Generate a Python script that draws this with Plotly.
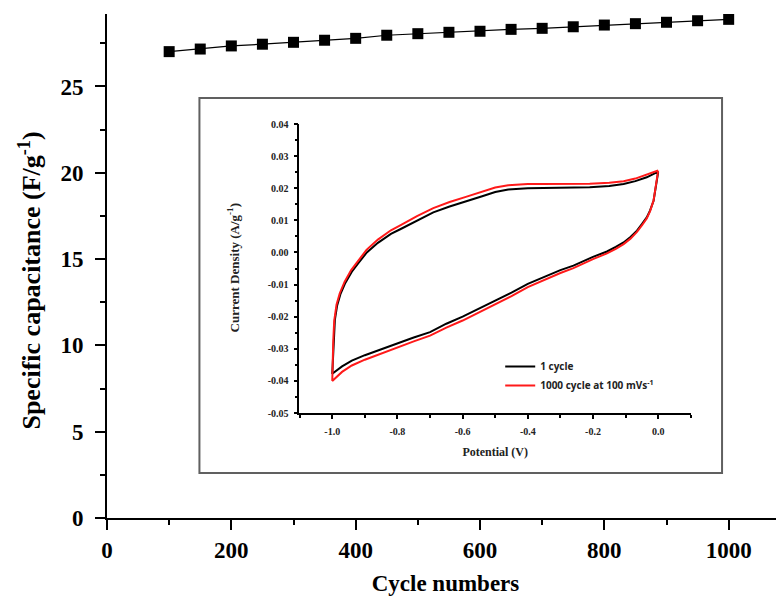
import plotly.graph_objects as go

# ---- main data: specific capacitance vs cycle number ----
cycles = [100, 150, 200, 250, 300, 350, 400, 450, 500, 550,
          600, 650, 700, 750, 800, 850, 900, 950, 1000]
capacitance = [27.02, 27.17, 27.35, 27.45, 27.56, 27.68, 27.79, 27.97, 28.06, 28.14,
               28.20, 28.31, 28.37, 28.46, 28.56, 28.64, 28.72, 28.81, 28.89]

# ---- inset: CV curves ----
pot_1 = [0.0, -0.005, -0.014, -0.025, -0.035, -0.05, -0.065, -0.085, -0.106, -0.13,
         -0.157, -0.20, -0.26, -0.30, -0.36, -0.40, -0.45, -0.50, -0.55, -0.60,
         -0.65, -0.70, -0.75, -0.80, -0.85, -0.90, -0.94, -0.97, -1.00,
         -0.998, -0.995, -0.992, -0.985, -0.975, -0.96, -0.94, -0.92, -0.894, -0.86,
         -0.82, -0.79, -0.74, -0.69, -0.64, -0.59, -0.54, -0.50, -0.46, -0.40,
         -0.36, -0.30, -0.25, -0.21, -0.15, -0.106, -0.07, -0.035, 0.0]
cur_1 = [0.0250, 0.0215, 0.0161, 0.0130, 0.0109, 0.0088, 0.0068, 0.0048, 0.0031, 0.0017,
         0.0003, -0.0014, -0.0041, -0.0055, -0.0080, -0.0098, -0.0125, -0.0150, -0.0174, -0.0200,
         -0.0222, -0.0248, -0.0265, -0.0283, -0.0300, -0.0320, -0.0337, -0.0355, -0.0378,
         -0.0330, -0.0270, -0.0210, -0.0165, -0.0130, -0.0095, -0.0060, -0.0033, 0.0000, 0.0030,
         0.0058, 0.0073, 0.0100, 0.0125, 0.0143, 0.0158, 0.0175, 0.0188, 0.0196, 0.0200,
         0.0201, 0.0202, 0.0202, 0.0203, 0.0207, 0.0213, 0.0222, 0.0234, 0.0252]

pot_1000 = [0.0, -0.005, -0.014, -0.025, -0.035, -0.05, -0.065, -0.085, -0.106, -0.13,
            -0.157, -0.20, -0.26, -0.30, -0.36, -0.40, -0.45, -0.50, -0.55, -0.60,
            -0.65, -0.70, -0.75, -0.80, -0.85, -0.90, -0.94, -0.97, -1.00,
            -0.999, -0.997, -0.994, -0.987, -0.977, -0.962, -0.942, -0.92, -0.895, -0.86,
            -0.82, -0.79, -0.74, -0.69, -0.64, -0.59, -0.54, -0.50, -0.46, -0.40,
            -0.36, -0.30, -0.25, -0.21, -0.15, -0.106, -0.07, -0.035, 0.0]
cur_1000 = [0.0255, 0.0218, 0.0162, 0.0128, 0.0106, 0.0084, 0.0064, 0.0043, 0.0026, 0.0011,
            -0.0003, -0.0021, -0.0049, -0.0064, -0.0089, -0.0108, -0.0136, -0.0162, -0.0186, -0.0212,
            -0.0234, -0.0259, -0.0277, -0.0296, -0.0313, -0.0334, -0.0352, -0.0372, -0.0400,
            -0.0340, -0.0275, -0.0212, -0.0163, -0.0127, -0.0091, -0.0055, -0.0026, 0.0008, 0.0040,
            0.0069, 0.0085, 0.0113, 0.0138, 0.0157, 0.0173, 0.0190, 0.0202, 0.0209, 0.0213,
            0.0213, 0.0213, 0.0213, 0.0214, 0.0217, 0.0222, 0.0230, 0.0242, 0.0255]

main_yticks = [0, 5, 10, 15, 20, 25]
main_xticks = [0, 200, 400, 600, 800, 1000]
inset_yticks = [-0.05, -0.04, -0.03, -0.02, -0.01, 0.00, 0.01, 0.02, 0.03, 0.04]
inset_ytext = ["-0.05", "-0.04", "-0.03", "-0.02", "-0.01", "0.00", "0.01", "0.02", "0.03", "0.04"]
inset_xticks = [-1.0, -0.8, -0.6, -0.4, -0.2, 0.0]
inset_xtext = ["-1.0", "-0.8", "-0.6", "-0.4", "-0.2", "0.0"]

SERIF = "Liberation Serif"

fig = go.Figure()

fig.add_trace(go.Scatter(
    x=cycles, y=capacitance, mode="lines+markers",
    line=dict(color="black", width=1.2),
    marker=dict(symbol="square", size=11, color="black"),
    showlegend=False, xaxis="x", yaxis="y"))

fig.add_trace(go.Scatter(
    x=pot_1, y=cur_1, mode="lines", name="1 cycle",
    line=dict(color="black", width=2), xaxis="x2", yaxis="y2"))
fig.add_trace(go.Scatter(
    x=pot_1000, y=cur_1000, mode="lines", name="1000 cycle at 100 mVs<sup>-1</sup>",
    line=dict(color="#ff1a1a", width=2), xaxis="x2", yaxis="y2"))

# page offset of the plot div inside the browser body
OFF = 8
L, R, T, B = 106.5, 784.0, 14.0, 518.0
W, H = R - L, B - T

def px(xp):
    return (xp - L) / W

def py(yp):
    return (B - yp) / H

axis_common = dict(showgrid=False, zeroline=False, showline=True, linecolor="black",
                   ticks="outside", tickcolor="black")

fig.update_layout(
    width=784 - OFF, height=597 - OFF,
    margin=dict(l=L - OFF, r=0, t=T - OFF, b=597 - B, autoexpand=False),
    paper_bgcolor="white", plot_bgcolor="rgba(0,0,0,0)",
    xaxis=dict(**axis_common, range=[0, 1089], tickvals=main_xticks,
               linewidth=2, tickwidth=2, ticklen=10,
               minor=dict(ticks="outside", dtick=100, tick0=0, ticklen=5, tickwidth=2, tickcolor="black"),
               tickfont=dict(family=SERIF, size=23, color="black", weight="bold"),
               title=dict(text="Cycle numbers", standoff=13,
                          font=dict(family=SERIF, size=23, color="black", weight="bold"))),
    yaxis=dict(**axis_common, range=[0, 29.2], tickvals=main_yticks,
               linewidth=2, tickwidth=2, ticklen=10, ticklabelstandoff=7,
               minor=dict(ticks="outside", dtick=2.5, tick0=0, ticklen=5, tickwidth=2, tickcolor="black"),
               tickfont=dict(family=SERIF, size=23, color="black", weight="bold")),
    xaxis2=dict(**axis_common, domain=[px(299), px(691)], anchor="y2",
                range=[-1.101, 0.101], tickvals=inset_xticks, ticktext=inset_xtext,
                linewidth=1.5, tickwidth=1.5, ticklen=4, ticklabelstandoff=4,
                minor=dict(ticks="outside", tickvals=[-1.1, -0.9, -0.7, -0.5, -0.3, -0.1, 0.1],
                           ticklen=3, tickwidth=1.5, tickcolor="black"),
                tickfont=dict(family=SERIF, size=10, color="#222", weight="bold"),
                title=dict(text="Potential (V)", standoff=12,
                           font=dict(family=SERIF, size=12, color="#222", weight="bold"))),
    yaxis2=dict(**axis_common, domain=[py(413), py(124)], anchor="x2",
                range=[-0.05, 0.04], tickvals=inset_yticks, ticktext=inset_ytext,
                linewidth=1.5, tickwidth=1.5, ticklen=4, ticklabelstandoff=3,
                minor=dict(ticks="outside", dtick=0.005, tick0=0, ticklen=3, tickwidth=1.5, tickcolor="black"),
                tickfont=dict(family=SERIF, size=10, color="#222", weight="bold")),
    showlegend=True,
    legend=dict(x=px(500), y=py(352), xanchor="left", yanchor="top",
                bgcolor="rgba(0,0,0,0)", borderwidth=0, tracegroupgap=0,
                font=dict(family="Open Sans", size=10, color="#222", weight="bold")),
    shapes=[dict(type="rect", xref="paper", yref="paper",
                 x0=px(199), x1=px(722), y0=py(473), y1=py(98),
                 line=dict(color="#606060", width=2), fillcolor="white", layer="below")],
    annotations=[
        dict(text="Specific capacitance (F/g<sup>-1</sup>)", xref="paper", yref="paper",
             x=px(29), y=py(281), xanchor="center", yanchor="middle", textangle=-90,
             showarrow=False, font=dict(family=SERIF, size=26, color="black", weight="bold")),
        dict(text="Current Density (A/g<sup>-1</sup>)", xref="paper", yref="paper",
             x=px(233), y=py(268), xanchor="center", yanchor="middle", textangle=-90,
             showarrow=False, font=dict(family=SERIF, size=13, color="#222", weight="bold")),
    ],
)

fig.write_html("out.html")
